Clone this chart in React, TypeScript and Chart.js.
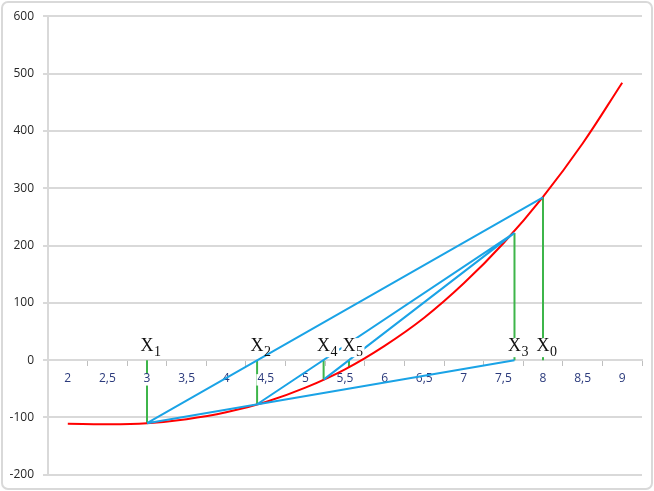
import React, { useEffect, useRef } from 'react';
import { Chart, registerables } from 'chart.js';

Chart.register(...registerables);

// Red curve f(x) at the category positions
const curveX = [2, 2.5, 3, 3.5, 4, 4.5, 5, 5.5, 6, 6.5, 7, 7.5, 8, 8.5, 9];
const curveY = [-111, -112, -110, -103, -91, -73, -48, -16, 25, 74, 134, 204, 285, 378, 484];

// x-axis tick labels
const xTickValues = [2, 2.5, 3, 3.5, 4, 4.5, 5, 5.5, 6, 6.5, 7, 7.5, 8, 8.5, 9];

// iterates X0..X5 and the curve value at each
const rootNames = ['0', '1', '2', '3', '4', '5'];
const rootX = [8, 3, 4.39, 7.64, 5.23, 5.55];
const rootY = [284, -110, -77, 222, -34, -13];
const labelBoxed = [true, false, false, true, true, true];

// blue chords
const chordFromX = [3, 3, 4.39, 5.23];
const chordFromY = [-110, -110, -77, -34];
const chordToX = [8, 7.64, 7.64, 7.64];
const chordToY = [284, 0, 222, 222];

const NAVY = '#2b3a7c';
const GRID = '#d9d9d9';

const framePlugin = {
  id: 'frame',
  beforeDraw(chart: any) {
    const ctx = chart.ctx;
    ctx.save();
    ctx.fillStyle = '#ffffff';
    ctx.fillRect(0, 0, chart.width, chart.height);
    ctx.strokeStyle = '#d9d9d9';
    ctx.lineWidth = 2;
    ctx.beginPath();
    if (ctx.roundRect) ctx.roundRect(2, 2, chart.width - 4, chart.height - 4, 6);
    else ctx.rect(2, 2, chart.width - 4, chart.height - 4);
    ctx.stroke();
    ctx.restore();
  },
};

// draws the x tick labels right after the green verticals, so they sit above them but under the chords
const xLabelLayerPlugin = {
  id: 'xLabelLayer',
  afterDatasetDraw(chart: any, args: any) {
    const ds = chart.data.datasets[args.index];
    if (ds && ds.label === 'verticals') {
      const s = chart.scales.x2;
      if (s && s.drawLabels) s.drawLabels(chart.chartArea);
    }
  },
};

const rootLabelPlugin = {
  id: 'rootLabels',
  afterDatasetsDraw(chart: any) {
    const { ctx } = chart;
    const x = chart.scales.x;
    const y = chart.scales.y;
    const y0 = y.getPixelForValue(0);
    ctx.save();
    ctx.textAlign = 'left';
    ctx.textBaseline = 'alphabetic';
    rootX.forEach((v, i) => {
      const px = x.getPixelForValue(v);
      const base = y0 - 9;
      ctx.font = '18px "Liberation Serif"';
      const wX = ctx.measureText('X').width;
      ctx.font = '14px "Liberation Serif"';
      const wS = ctx.measureText(rootNames[i]).width;
      const left = px - wX / 2;
      if (labelBoxed[i]) {
        ctx.fillStyle = '#ffffff';
        ctx.fillRect(left - 1, base - 13, wX + wS + 3, 19);
      }
      ctx.fillStyle = '#111111';
      ctx.font = '18px "Liberation Serif"';
      ctx.fillText('X', left, base);
      ctx.font = '14px "Liberation Serif"';
      ctx.fillText(rootNames[i], left + wX + 0.5, base + 5);
    });
    ctx.restore();
  },
};

const setXTicks = (s: any) => {
  s.ticks = xTickValues.map((v) => ({ value: v }));
};

export default function App() {
  const ref = useRef<HTMLCanvasElement | null>(null);

  useEffect(() => {
    if (!ref.current) return;

    const curveData = curveX.map((x, i) => ({ x, y: curveY[i] }));
    const verticalData: any[] = [];
    rootX.forEach((x, i) => {
      verticalData.push({ x, y: 0 }, { x, y: rootY[i] }, { x, y: null });
    });
    const chordData: any[] = [];
    chordFromX.forEach((x, i) => {
      chordData.push({ x, y: chordFromY[i] }, { x: chordToX[i], y: chordToY[i] }, { x: chordToX[i], y: null });
    });

    Chart.defaults.font.family = '"Open Sans", sans-serif';

    const chart = new Chart(ref.current, {
      type: 'scatter',
      data: {
        datasets: [
          {
            label: 'verticals',
            data: verticalData,
            showLine: true,
            borderColor: '#3db54a',
            borderWidth: 2,
            pointRadius: 0,
            spanGaps: false,
            order: 3,
          },
          {
            label: 'curve',
            data: curveData,
            showLine: true,
            borderColor: '#ff0000',
            borderWidth: 2,
            pointRadius: 0,
            tension: 0.4,
            order: 2,
          },
          {
            label: 'chords',
            data: chordData,
            showLine: true,
            borderColor: '#1aa3e6',
            borderWidth: 2,
            pointRadius: 0,
            spanGaps: false,
            order: 1,
          },
        ] as any,
      },
      options: {
        animation: false,
        responsive: false,
        devicePixelRatio: 1,
        events: [],
        layout: { padding: { left: 0, right: 12, top: 14, bottom: 15 } },
        plugins: { legend: { display: false }, tooltip: { enabled: false } },
        scales: {
          x: {
            type: 'linear',
            min: 1.75,
            max: 9.25,
            position: { y: 0 } as any,
            afterBuildTicks: setXTicks,
            ticks: { display: false },
            grid: { offset: true, drawOnChartArea: false, drawTicks: true, tickLength: 5, color: '#bfbfbf', lineWidth: 1 },
            border: { color: GRID, width: 2 },
          },
          x2: {
            type: 'linear',
            display: false,
            min: 1.75,
            max: 9.25,
            position: { y: 0 } as any,
            afterBuildTicks: setXTicks,
            ticks: {
              autoSkip: false,
              maxRotation: 0,
              color: NAVY,
              font: { family: '"Open Sans", sans-serif', size: 12 },
              padding: 6,
              showLabelBackdrop: true,
              backdropColor: '#ffffff',
              backdropPadding: { top: -3, bottom: 0, left: 1, right: 1 },
              callback: (v: any) => String(v).replace('.', ','),
            } as any,
            grid: { drawOnChartArea: false, drawTicks: true, tickLength: 5 },
          },
          y: {
            type: 'linear',
            min: -200,
            max: 600,
            afterFit: (s: any) => {
              s.width = 48;
            },
            ticks: {
              stepSize: 100,
              color: '#262626',
              font: { family: '"Open Sans", sans-serif', size: 12 },
              padding: 9,
            },
            grid: { color: GRID, lineWidth: 2, tickLength: 5, drawTicks: true },
            border: { color: GRID, width: 2 },
          },
        },
      },
      plugins: [framePlugin, xLabelLayerPlugin, rootLabelPlugin],
    });

    return () => chart.destroy();
  }, []);

  return (
    <div style={{ position: 'absolute', left: 0, top: 0, width: 654, height: 491 }}>
      <canvas ref={ref} width={654} height={491} style={{ display: 'block' }} />
    </div>
  );
}
